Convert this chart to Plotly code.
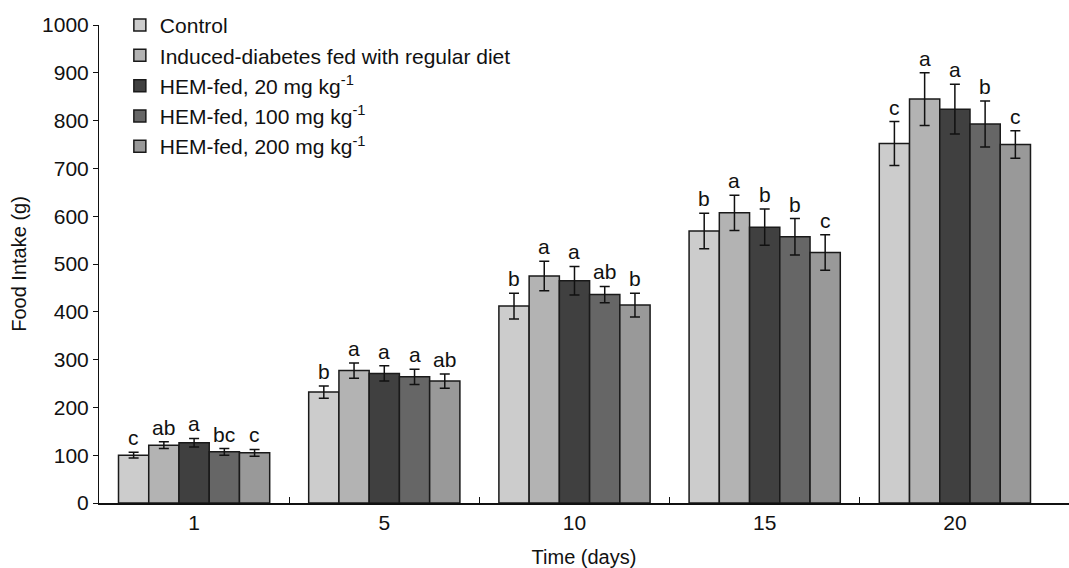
import plotly.graph_objects as go

days = ["1", "5", "10", "15", "20"]
groups = ["Control", "Induced-diabetes fed with regular diet",
          "HEM-fed, 20 mg kg<sup>-1</sup>", "HEM-fed, 100 mg kg<sup>-1</sup>",
          "HEM-fed, 200 mg kg<sup>-1</sup>"]
colors = ["#cccccc", "#b3b3b3", "#404040", "#666666", "#999999"]

control = [100, 232, 412, 569, 752]
induced = [121, 277, 475, 607, 845]
hem20 = [126, 271, 465, 577, 824]
hem100 = [107, 264, 436, 557, 793]
hem200 = [105, 255, 414, 524, 750]

control_err = [6, 13, 27, 37, 46]
induced_err = [7, 16, 31, 37, 55]
hem20_err = [9, 16, 30, 38, 52]
hem100_err = [7, 16, 17, 38, 48]
hem200_err = [7, 15, 25, 37, 29]

control_lbl = ["c", "b", "b", "b", "c"]
induced_lbl = ["ab", "a", "a", "a", "a"]
hem20_lbl = ["a", "a", "a", "b", "a"]
hem100_lbl = ["bc", "a", "ab", "b", "b"]
hem200_lbl = ["c", "ab", "b", "c", "c"]

series = [control, induced, hem20, hem100, hem200]
errors = [control_err, induced_err, hem20_err, hem100_err, hem200_err]
labels = [control_lbl, induced_lbl, hem20_lbl, hem100_lbl, hem200_lbl]

group_frac = 0.795
bw = group_frac / len(groups)
FONT = "Liberation Sans, Arial, sans-serif"

fig = go.Figure()
annotations = []
for j, (name, vals, errs, lbls, col) in enumerate(zip(groups, series, errors, labels, colors)):
    xs = [i + (j - 2) * bw for i in range(len(days))]
    fig.add_trace(go.Bar(
        x=xs, y=vals, width=bw, name=name, marker_color=col,
        marker_line=dict(color="#1a1a1a", width=1.5),
        error_y=dict(type="data", array=errs, visible=True, color="#111111",
                     thickness=1.5, width=5),
        legendgroup=str(j),
    ))
    for x, v, e, t in zip(xs, vals, errs, lbls):
        annotations.append(dict(x=x, y=v + e, text=t, showarrow=False,
                                yanchor="bottom", yshift=1,
                                font=dict(size=21, color="#111111", family=FONT)))

fig.update_layout(
    width=1069, height=568,
    margin=dict(l=99, r=0, t=25, b=65),
    plot_bgcolor="white", paper_bgcolor="white",
    font=dict(family=FONT, size=21, color="#111111"),
    barmode="overlay",
    annotations=annotations,
    showlegend=True,
    legend=dict(x=0.0215, y=1.042, xanchor="left", yanchor="top",
                font=dict(size=21, family=FONT), tracegroupgap=2,
                bgcolor="rgba(0,0,0,0)", traceorder="normal"),
    xaxis=dict(range=[-0.5, 4.6], tickmode="array", automargin=False,
               tickvals=list(range(len(days))), ticktext=days,
               ticks="", showgrid=False, zeroline=False,
               showline=True, linecolor="#111111", linewidth=2,
               tickfont=dict(size=21),
               minor=dict(tickmode="array", tickvals=[0.5, 1.5, 2.5, 3.5],
                          ticks="inside", ticklen=6, tickcolor="#111111", tickwidth=1),
               title=dict(text="Time (days)", font=dict(size=20), standoff=17)),
    yaxis=dict(range=[0, 1000], tickvals=list(range(0, 1001, 100)), automargin=False,
               ticks="outside", ticklen=5, tickcolor="#111111", tickwidth=1,
               showgrid=False, zeroline=False,
               showline=True, linecolor="#111111", linewidth=1,
               tickfont=dict(size=21),
               title=dict(text="Food Intake (g)", font=dict(size=20), standoff=10)),
)

fig.write_html("out.html", config={"displayModeBar": False},
               post_script="document.body.style.margin='0';document.body.style.overflow='hidden';")
